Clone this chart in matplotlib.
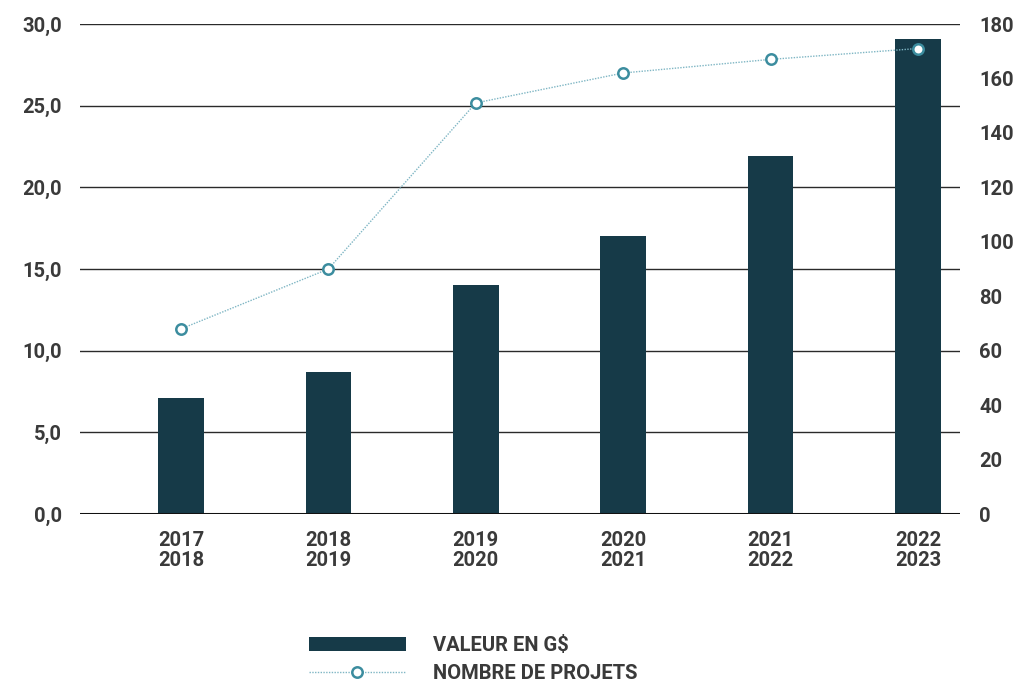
import matplotlib
matplotlib.use("Agg")
import matplotlib.pyplot as plt
from matplotlib.ticker import FuncFormatter

categories = ["2017\n2018", "2018\n2019", "2019\n2020", "2020\n2021", "2021\n2022", "2022\n2023"]
valeur = [7.1, 8.7, 14.0, 17.0, 21.9, 29.1]
projets = [68, 90, 151, 162, 167, 171]
left_ticks = [0, 5, 10, 15, 20, 25, 30]
right_ticks = [0, 20, 40, 60, 80, 100, 120, 140, 160, 180]

font = ["Roboto", "DejaVu Sans"]
plt.rcParams["font.family"] = font
txt = "#3a3a3a"
bar_c = "#163a48"
line_c = "#7fb6c4"
mk_c = "#3c8d9f"
fs = 14.5

fig = plt.figure(figsize=(10.27, 6.85), dpi=100)
ax = fig.add_axes([80/1027, 1-514/685, 880/1027, 490/685])
x = list(range(len(categories)))
bars = ax.bar(x, valeur, width=0.31, color=bar_c, zorder=3, label="VALEUR EN G$")
ax.set_xlim(-0.685, 5.285)
ax.set_ylim(0, 30)
ax.set_yticks(left_ticks)
ax.yaxis.set_major_formatter(FuncFormatter(lambda v, p: f"{v:.1f}".replace(".", ",")))
ax.set_xticks(x)
ax.set_xticklabels(categories, fontsize=fs, fontweight="bold", color=txt, linespacing=1.1)
for t in ax.get_yticklabels():
    t.set_fontsize(fs); t.set_fontweight("bold"); t.set_color(txt)
ax.tick_params(axis="both", length=0)
ax.tick_params(axis="y", pad=13)
ax.tick_params(axis="x", pad=12)
for v in left_ticks[1:]:
    ax.axhline(v, color="#2a2a2a", lw=1.0, zorder=1)
ax.axhline(0, color="#111111", lw=2.2, zorder=4)
for s in ax.spines.values():
    s.set_visible(False)

ax2 = ax.twinx()
ax2.set_ylim(0, 180)
ax2.set_yticks(right_ticks)
ax2.yaxis.set_major_formatter(FuncFormatter(lambda v, p: f"{int(v)}"))
for t in ax2.get_yticklabels():
    t.set_fontsize(fs); t.set_fontweight("bold"); t.set_color(txt)
ax2.tick_params(axis="y", length=0, pad=14)
for s in ax2.spines.values():
    s.set_visible(False)
line, = ax2.plot(x, projets, linestyle=(0, (1, 1)), color=line_c, lw=1.0,
                 marker="o", markersize=7.5, markerfacecolor="white",
                 markeredgecolor=mk_c, markeredgewidth=1.8, zorder=5,
                 label="NOMBRE DE PROJETS")

leg = fig.legend([bars, line], ["VALEUR EN G$", "NOMBRE DE PROJETS"],
                 loc="upper left", bbox_to_anchor=(303/1027, 1-630/685),
                 frameon=False, handlelength=4.8, handletextpad=1.35,
                 labelspacing=0.45, borderaxespad=0, borderpad=0.3,
                 prop={"family": font, "weight": "bold", "size": fs})
for t in leg.get_texts():
    t.set_color(txt)

fig.savefig("out.png", dpi=100)
